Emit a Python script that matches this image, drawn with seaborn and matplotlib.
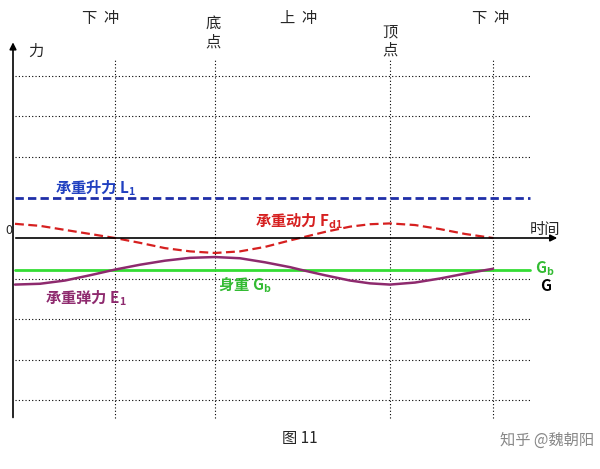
import matplotlib
matplotlib.use("Agg")
import matplotlib.pyplot as plt
import seaborn as sns

sns.set_style("white")
plt.rcParams['font.family'] = ['Noto Sans CJK SC', 'DejaVu Sans']

# time positions (pixel-like units) and force values (grid units)
red_t = [15, 40, 65, 90, 115, 140, 165, 190, 215, 240, 265, 290, 300, 325, 350, 370, 390, 415, 440, 465, 493]
red_f = [0.35, 0.30, 0.20, 0.10, 0.0, -0.12, -0.25, -0.33, -0.37, -0.33, -0.22, -0.06, 0.0, 0.15, 0.28, 0.34, 0.36, 0.32, 0.22, 0.10, 0.0]
pur_t = red_t
pur_f = [-1.15, -1.13, -1.05, -0.92, -0.78, -0.66, -0.56, -0.49, -0.47, -0.50, -0.60, -0.72, -0.78, -0.92, -1.05, -1.12, -1.15, -1.10, -1.00, -0.88, -0.76]
lift = 1.0
weight = -0.78
grid_levels = [4, 3, 2, -1, -2, -3, -4]
phase_t = [115, 215, 390, 493]

fig = plt.figure(figsize=(6, 4.69), dpi=100)
ax = fig.add_axes([0, 0, 1, 1])
ax.set_xlim(0, 600)
ax.set_ylim((238 - 469) / 40.5, 238 / 40.5)
ax.axis('off')

for g in grid_levels:
    ax.plot([15, 530], [g, g], color='black', lw=0.8, ls=(0, (1, 2)))
for t in phase_t:
    ax.plot([t, t], [-4.45, 4.4], color='black', lw=0.8, ls=(0, (1, 2)))

# axes
ax.annotate('', xy=(560, 0), xytext=(13, 0), arrowprops=dict(arrowstyle='-|>', color='black', lw=1.2))
ax.annotate('', xy=(13, 4.9), xytext=(13, -4.5), arrowprops=dict(arrowstyle='-|>', color='black', lw=1.2))

ax.plot([15, 530], [lift, lift], color='#1f2fa8', lw=2, ls=(0, (3, 1.5)))
ax.plot(red_t, red_f, color='#d62020', lw=1.6, ls=(0, (4, 2)))
ax.plot([15, 530], [weight, weight], color='#33dd33', lw=2)
ax.plot(pur_t, pur_f, color='#8e2a6e', lw=1.8)

ax.text(28, 4.5, '力', fontsize=11)
ax.text(5, 0.1, '0', fontsize=9)
ax.text(530, 0.1, '时间', fontsize=11)
ax.text(55, 1.1, r'承重升力 L$\mathregular{_1}$', color='#2040c0', fontsize=11, fontweight='bold')
ax.text(255, 0.3, r'承重动力 F$\mathregular{_{d1}}$', color='#d62020', fontsize=11, fontweight='bold')
ax.text(218, -1.28, r'身重 G$\mathregular{_b}$', color='#33bb33', fontsize=11, fontweight='bold')
ax.text(535, -0.88, r'G$\mathregular{_b}$', color='#33bb33', fontsize=11, fontweight='bold')
ax.text(540, -1.32, 'G', color='black', fontsize=11, fontweight='bold')
ax.text(45, -1.6, r'承重弹力 E$\mathregular{_1}$', color='#8e2a6e', fontsize=11, fontweight='bold')

ax.text(82, 5.3, '下  冲', fontsize=11)
ax.text(280, 5.3, '上  冲', fontsize=11)
ax.text(472, 5.3, '下  冲', fontsize=11)
ax.text(213, 5.5, '底\n点', fontsize=11, ha='center', va='top', linespacing=1.1)
ax.text(390, 5.3, '顶\n点', fontsize=11, ha='center', va='top', linespacing=1.1)
ax.text(300, -5.05, '图 11', fontsize=11, ha='center')
ax.text(500, -5.1, '知乎 @魏朝阳', fontsize=11, color='#888888')

fig.savefig('out.png', dpi=100)
